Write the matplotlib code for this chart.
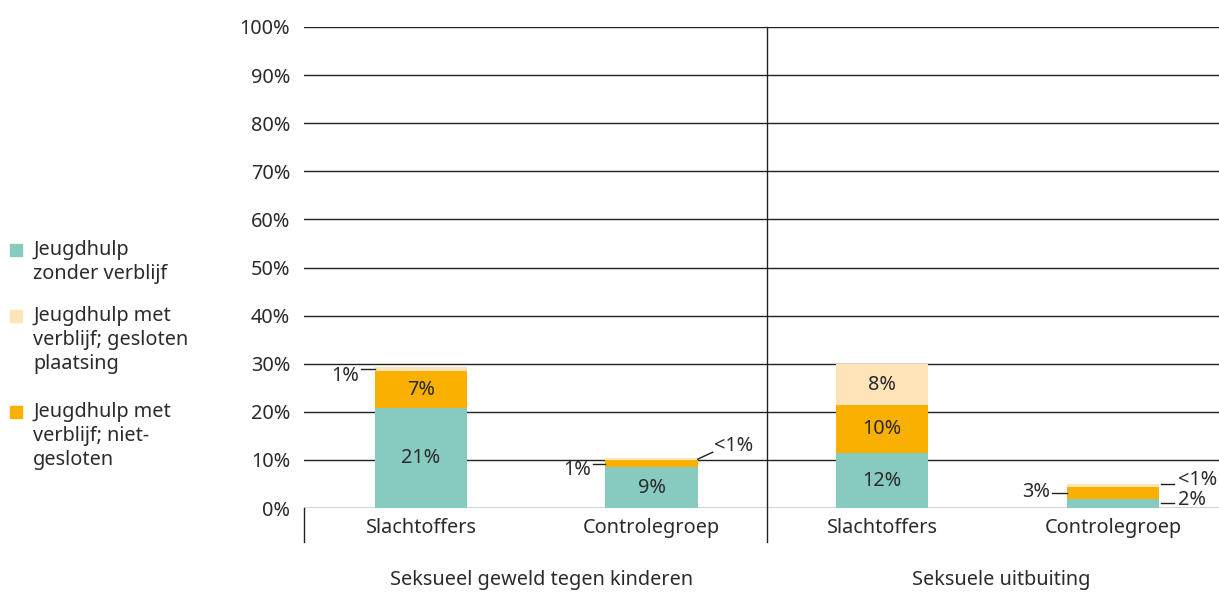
import matplotlib
matplotlib.use("Agg")
import matplotlib.pyplot as plt
import numpy as np

plt.rcParams['font.family'] = ['Noto Sans', 'DejaVu Sans']

categories = ["Slachtoffers", "Controlegroep", "Slachtoffers", "Controlegroep"]
groups = ["Seksueel geweld tegen kinderen", "Seksuele uitbuiting"]
zonder = [20.8, 8.5, 11.4, 1.8]
niet_gesloten = [7.6, 1.5, 10.0, 2.6]
gesloten = [0.9, 0.3, 8.5, 0.6]
lbl_zonder = ["21%", "9%", "12%", "2%"]
lbl_niet = ["7%", "1%", "10%", "3%"]
lbl_gesl = ["1%", "<1%", "8%", "<1%"]
yticks = list(range(0, 101, 10))
legend_labels = [["Jeugdhulp", "zonder verblijf"],
                 ["Jeugdhulp met", "verblijf; gesloten", "plaatsing"],
                 ["Jeugdhulp met", "verblijf; niet-", "gesloten"]]

c_teal = "#87CBC0"
c_orange = "#F9B000"
c_light = "#FFE4BA"
txt = "#2b2b2b"
line_c = "#222222"
fs = 14.3
W, H = 1219, 592

fig = plt.figure(figsize=(W/100, H/100), dpi=100)
ax = fig.add_axes([304/W, 1-508/H, 1-304/W, (508-27)/H])

x = np.arange(len(categories))
w = 0.4
ax.bar(x, zonder, w, color=c_teal, zorder=3)
ax.bar(x, niet_gesloten, w, bottom=zonder, color=c_orange, zorder=3)
bot3 = np.array(zonder) + np.array(niet_gesloten)
ax.bar(x, gesloten, w, bottom=bot3, color=c_light, zorder=3)

ax.set_xlim(-0.507, 3.46)
ax.set_ylim(0, 100)
ax.set_yticks(yticks)
ax.set_yticklabels([f"{v}%" for v in yticks], fontsize=fs, color=txt)
ax.set_xticks(x)
ax.set_xticklabels(categories, fontsize=fs, color=txt)
ax.tick_params(axis='y', length=0, pad=10)
ax.tick_params(axis='x', length=0, pad=7.5)
for s in ax.spines.values():
    s.set_visible(False)
ax.grid(axis='y', color=line_c, lw=1.0, zorder=1)
ax.set_axisbelow(True)

px = 1/230.5   # data units per pixel in x
py = 100/481   # data units per pixel in y

# separators
ax.plot([-0.507, -0.507], [0, -7], color=line_c, lw=1, clip_on=False)
ax.plot([1.5, 1.5], [100, -7], color=line_c, lw=1, clip_on=False)

# group labels
ax.text(0.5 + 5*px, -15, groups[0], ha='center', va='center', fontsize=fs, color=txt)
ax.text(2.5 + 4*px, -15, groups[1], ha='center', va='center', fontsize=fs, color=txt)

# inside labels
for i in [0, 1, 2]:
    ax.text(x[i], zonder[i]/2, lbl_zonder[i], ha='center', va='center', fontsize=fs, color=txt, zorder=4)
for i in [0, 2]:
    ax.text(x[i], zonder[i] + niet_gesloten[i]/2, lbl_niet[i], ha='center', va='center', fontsize=fs, color=txt, zorder=4)
ax.text(x[2], bot3[2] + gesloten[2]/2, lbl_gesl[2], ha='center', va='center', fontsize=fs, color=txt, zorder=4)

def leader(x0, y0, x1, y1):
    ax.plot([x0, x1], [y0, y1], color=line_c, lw=1, clip_on=False, zorder=4)

# bar 0 gesloten (left)
y = bot3[0] + gesloten[0]/2
xl = x[0] - w/2
leader(xl, y, xl - 14*px, y)
ax.text(xl - 16*px, y - 7*py, lbl_gesl[0], ha='right', va='center', fontsize=fs, color=txt)
# bar 1 niet-gesloten (left)
y = zonder[1] + niet_gesloten[1]/2
xl = x[1] - w/2
leader(xl, y, xl - 12*px, y)
ax.text(xl - 14*px, y - 6*py, lbl_niet[1], ha='right', va='center', fontsize=fs, color=txt)
# bar 1 gesloten (right, slanted)
y = bot3[1] + gesloten[1]/2
xr = x[1] + w/2
leader(xr, y, xr + 15*px, y + 7*py)
ax.text(xr + 16*px, y + 13*py, lbl_gesl[1], ha='left', va='center', fontsize=fs, color=txt)
# bar 3 niet-gesloten (left)
y = zonder[3] + niet_gesloten[3]/2
xl = x[3] - w/2
leader(xl, y, xl - 15*px, y)
ax.text(xl - 17*px, y + 1*py, lbl_niet[3], ha='right', va='center', fontsize=fs, color=txt)
# bar 3 gesloten (right)
y = bot3[3] + gesloten[3]/2
xr = x[3] + w/2
yl = y + 1*py
leader(xr + 2*px, yl, xr + 15*px, yl)
ax.text(xr + 19*px, yl + 4*py, lbl_gesl[3], ha='left', va='center', fontsize=fs, color=txt)
# bar 3 zonder (right)
y = zonder[3]/2
yl = y + 0.1
leader(xr + 2*px, yl, xr + 15*px, yl)
ax.text(xr + 19*px, yl + 3*py, lbl_zonder[3], ha='left', va='center', fontsize=fs, color=txt)

# manual legend
colors = [c_teal, c_light, c_orange]
first_y = [250, 316, 412]
for c, y0, lines in zip(colors, first_y, legend_labels):
    fig.patches.append(plt.Rectangle((10/W, 1-(y0+6)/H), 12/W, 12/H, color=c,
                                     transform=fig.transFigure, figure=fig))
    for k, line in enumerate(lines):
        fig.text(33/W, 1-(y0 + 24*k)/H, line, ha='left', va='center', fontsize=fs, color=txt)

fig.savefig("out.png", dpi=100)
